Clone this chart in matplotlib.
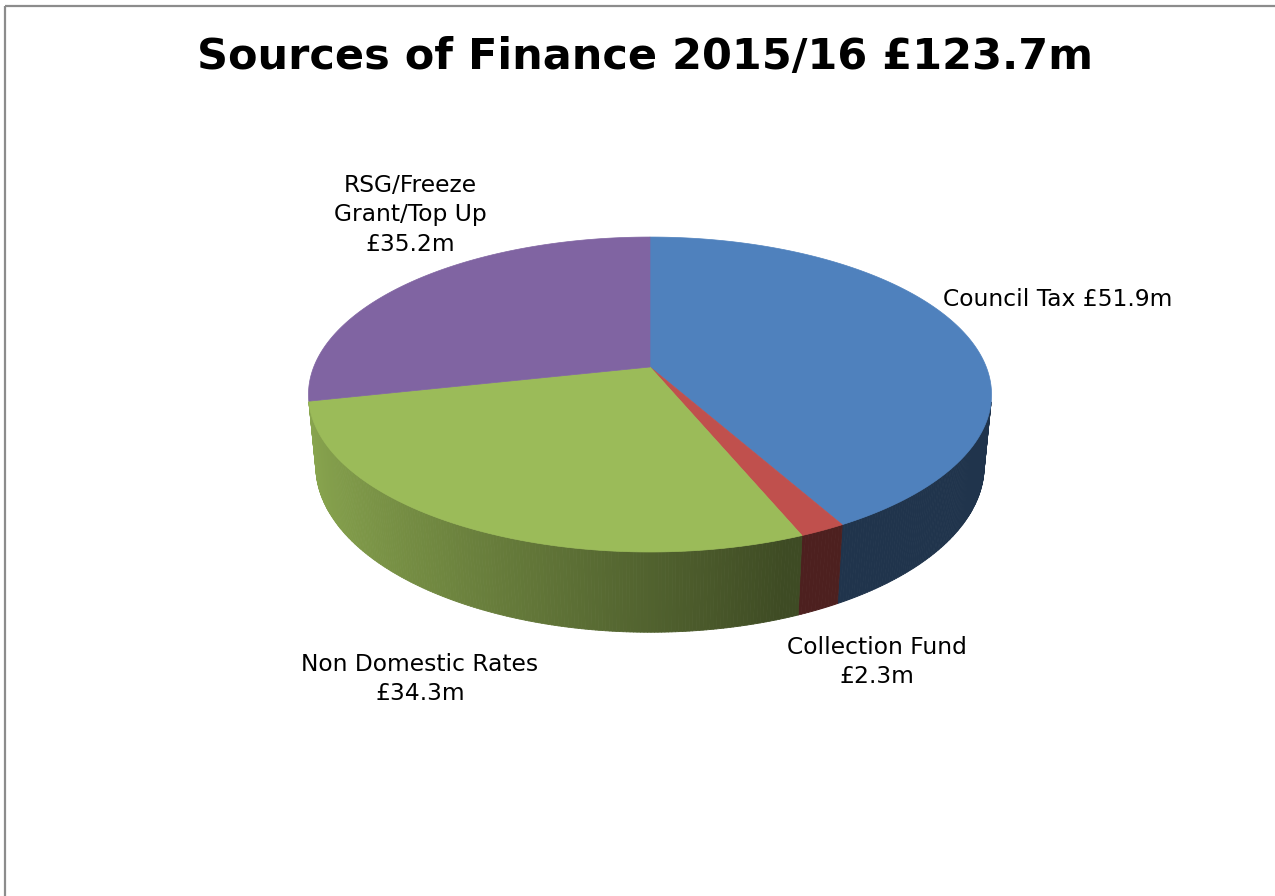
import numpy as np
import matplotlib
matplotlib.use("Agg")
import matplotlib.pyplot as plt
from matplotlib.collections import PolyCollection
from matplotlib.patches import Polygon

# data
labels = ["Council Tax", "Collection Fund", "Non Domestic Rates", "RSG/Freeze Grant/Top Up"]
values = [51.9, 2.3, 34.3, 35.2]
label_text = ["Council Tax £51.9m", "Collection Fund\n£2.3m",
              "Non Domestic Rates\n£34.3m", "RSG/Freeze\nGrant/Top Up\n£35.2m"]
colors = ["#4F81BD", "#C0504D", "#9BBB59", "#8064A2"]
title = "Sources of Finance 2015/16 £123.7m"

# 3d view (pixel coords)
cx, cy = 650, 367
elev = np.radians(27)
dist = 5.10
scale = 1715
thick = 0.24
se, ce = np.sin(elev), np.cos(elev)


def project(theta, r, z):
    th = np.radians(theta)
    x = r * np.sin(th)
    y = r * np.cos(th)
    depth = dist + y * ce - z * se
    up = y * se + z * ce
    return cx + scale * x / depth, cy - scale * up / depth


def shade(rgb, theta):
    s = np.sin(np.radians(theta))
    f = 0.40 + 0.48 * (0.342 - s) / 1.316
    f = min(max(f, 0.40), 0.88)
    return tuple(c * f for c in rgb)


fig = plt.figure(figsize=(12.75, 8.96), dpi=100)
ax = fig.add_axes([0, 0, 1, 1])
ax.set_xlim(0, 1275)
ax.set_ylim(896, 0)
ax.axis("off")

# chart border (only left and top are inside the picture)
ax.plot([5, 5], [6, 900], color="#8c8c8c", lw=1.6, solid_capstyle="butt")
ax.plot([5, 1280], [6, 6], color="#8c8c8c", lw=1.6, solid_capstyle="butt")

total = sum(values)
bounds = np.concatenate([[0], np.cumsum(values) / total * 360])

# visible part of the outer wall
vis = np.degrees(np.arccos(-1 / (dist * ce)))
vis_lo, vis_hi = vis, 360 - vis

for i, col in enumerate(colors):
    a0, a1 = max(bounds[i], vis_lo), min(bounds[i + 1], vis_hi)
    if a1 <= a0:
        continue
    rgb = matplotlib.colors.to_rgb(col)
    th = np.linspace(a0, a1, max(int((a1 - a0) * 2), 2))
    quads, fcs = [], []
    for t0, t1 in zip(th[:-1], th[1:]):
        p = [project(t0, 1, 0), project(t1, 1, 0), project(t1, 1, -thick), project(t0, 1, -thick)]
        quads.append(p)
        fcs.append(shade(rgb, (t0 + t1) / 2))
    ax.add_collection(PolyCollection(quads, facecolors=fcs, edgecolors=fcs, linewidths=0.6))

# top faces
for i, col in enumerate(colors):
    th = np.linspace(bounds[i], bounds[i + 1], max(int(values[i] / total * 720), 3))
    xs, ys = project(th, 1, 0)
    pts = [project(0, 0, 0)] + list(zip(xs, ys))
    ax.add_patch(Polygon(pts, closed=True, facecolor=col, edgecolor=col, lw=0.5))

ax.text(645, 57, title, ha="center", va="center", fontsize=31, fontweight="heavy",
        family="DejaVu Sans")

label_pos = [(943, 300, "left"), (877, 662, "center"), (420, 679, "center"), (410, 215, "center")]
for txt, (x, y, ha) in zip(label_text, label_pos):
    ax.text(x, y, txt, ha=ha, va="center", ma="center", fontsize=16.8,
            family="DejaVu Sans", linespacing=1.36)

plt.savefig("out.png", dpi=100)
